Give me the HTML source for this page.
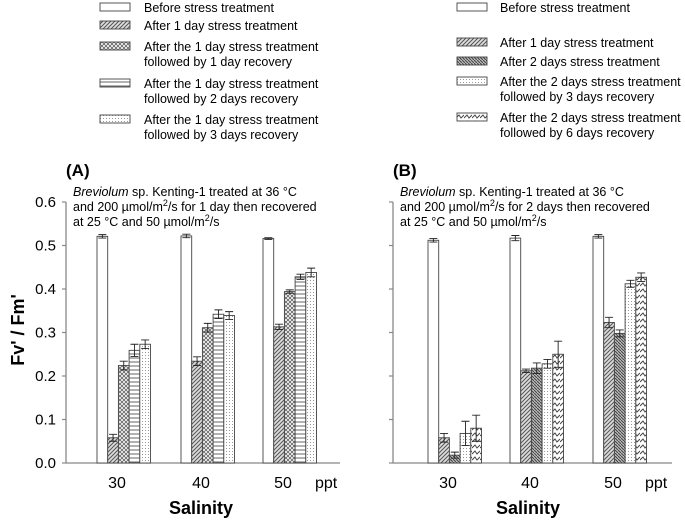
<!DOCTYPE html>
<html><head><meta charset="utf-8"><style>
html,body{margin:0;padding:0;background:#fff}
svg{display:block;font-family:"Liberation Sans",Arial,sans-serif}
</style></head><body>
<svg id="c" width="685" height="520" viewBox="0 0 685 520">
<defs>
<pattern id="pDiag" width="4" height="4" patternUnits="userSpaceOnUse"><rect width="4" height="4" fill="#ddd"/><path d="M0,4 L4,0 M-1,1 L1,-1 M3,5 L5,3" stroke="#555" stroke-width="1"/></pattern>
<pattern id="pCross" width="4" height="4" patternUnits="userSpaceOnUse"><rect width="4" height="4" fill="#fff"/><path d="M0,0 L4,4 M0,4 L4,0" stroke="#666" stroke-width="0.9"/></pattern>
<pattern id="pHoriz" width="4" height="4" patternUnits="userSpaceOnUse"><rect width="4" height="4" fill="#fff"/><path d="M0,2 L4,2" stroke="#555" stroke-width="0.9"/></pattern>
<pattern id="pDots" width="3" height="3" patternUnits="userSpaceOnUse"><rect width="3" height="3" fill="#fff"/><rect x="1" y="1" width="1" height="1" fill="#999"/></pattern>
<pattern id="pDiag2" width="3" height="3" patternUnits="userSpaceOnUse"><rect width="3" height="3" fill="#bbb"/><path d="M0,0 L3,3" stroke="#444" stroke-width="1"/></pattern>
<pattern id="pWave" width="8" height="6" patternUnits="userSpaceOnUse"><rect width="8" height="6" fill="#fff"/><path d="M0,4 L3,1 L5,4 L8,1" fill="none" stroke="#444" stroke-width="1"/></pattern>
</defs>
<g id="legend"></g>
<g id="panels"></g>
</svg>
<script>
const categories = ["30","40","50"];
const yTicks = [0,0.1,0.2,0.3,0.4,0.5,0.6];
const tickLabels = ["0.0","0.1","0.2","0.3","0.4","0.5","0.6"];
const aSeriesNames = ["Before stress treatment","After 1 day stress treatment","After the 1 day stress treatment followed by 1 day recovery","After the 1 day stress treatment followed by 2 days recovery","After the 1 day stress treatment followed by 3 days recovery"];
const aBefore = [0.521,0.522,0.516];
const aDay1 = [0.058,0.234,0.313];
const aRec1 = [0.224,0.311,0.394];
const aRec2 = [0.259,0.342,0.428];
const aRec3 = [0.273,0.339,0.438];
const aErr = [[0.004,0.004,0.002],[0.008,0.01,0.006],[0.01,0.01,0.004],[0.014,0.01,0.006],[0.01,0.009,0.01]];
const bSeriesNames = ["Before stress treatment","After 1 day stress treatment","After 2 days stress treatment","After the 2 days stress treatment followed by 3 days recovery","After the 2 days stress treatment followed by 6 days recovery"];
const bBefore = [0.512,0.517,0.521];
const bDay1 = [0.058,0.212,0.323];
const bDay2 = [0.018,0.218,0.298];
const bRec3 = [0.068,0.228,0.412];
const bRec6 = [0.080,0.250,0.427];
const bErr = [[0.004,0.006,0.004],[0.01,0.004,0.012],[0.007,0.012,0.008],[0.028,0.01,0.008],[0.03,0.03,0.01]];

const NS="http://www.w3.org/2000/svg";
function mk(tag,attrs,parent,txt){const e=document.createElementNS(NS,tag);for(const k in attrs)e.setAttribute(k,attrs[k]);if(txt!==undefined)e.textContent=txt;parent.appendChild(e);return e;}
const y0=463, yPer=435; // px per 1.0
function yScale(v){return y0-v*yPer;}
const panels=document.getElementById('panels');
const legend=document.getElementById('legend');

function drawPanel(id,axX,axEnd,groupX,series,errs,fills,label,title,nm){
  const g=mk('g',{},panels);
  
  
  const ax=mk('line',{x1:axX,y1:y0,x2:axX,y2:yScale(0.6),stroke:'#888','stroke-width':1.3},g);
  
  const xa=mk('line',{x1:axX,y1:y0,x2:axEnd,y2:y0,stroke:'#888','stroke-width':1.3},g);
  
  yTicks.forEach((t,i)=>{
    mk('line',{x1:axX-4,y1:yScale(t),x2:axX,y2:yScale(t),stroke:'#888','stroke-width':1.2},g);
    if(id==='A'){const tl=mk('text',{x:axX-10,y:yScale(t)+5,'text-anchor':'end','font-size':15,fill:'#000'},g,tickLabels[i]);
      }
  });
  const bw=10.7;
  categories.forEach((c,ci)=>{
    series.forEach((s,si)=>{
      const x=groupX[ci]+si*bw, v=s[ci], top=yScale(v);
      const r=mk('rect',{x:x,y:top,width:bw,height:y0-top,fill:fills[si],stroke:'#444','stroke-width':0.9},g);
      
      
      const e=errs[si][ci], cx=x+bw/2;
      mk('path',{d:`M${cx},${yScale(v+e)}V${yScale(v-e)}M${cx-4},${yScale(v+e)}H${cx+4}M${cx-4},${yScale(v-e)}H${cx+4}`,stroke:'#222','stroke-width':0.9,fill:'none'},g);
    });
    const xl=mk('text',{x:groupX[ci]+20,y:488,'text-anchor':'middle','font-size':16},g,c);
    
  });
  const ppt=mk('text',{x:groupX[2]+52,y:488,'font-size':16},g,'ppt');
  
  const pl=mk('text',{x:axX,y:176,'font-size':17,'font-weight':'bold'},g,label);
  
  const t=mk('text',{x:axX+7,y:196,'font-size':12.5},g);
  
  t.innerHTML=title;
  const xt=mk('text',{x:axX+135,y:514,'text-anchor':'middle','font-size':18,'font-weight':'bold'},g,'Salinity');
  
}
const fa=['#fff','url(#pDiag)','url(#pCross)','url(#pHoriz)','url(#pDots)'];
const fb=['#fff','url(#pDiag)','url(#pDiag2)','url(#pDots)','url(#pWave)'];
drawPanel('A',66,340,[97,181,263],[aBefore,aDay1,aRec1,aRec2,aRec3],aErr,fa,'(A)',
 '<tspan font-style="italic">Breviolum</tspan> sp. Kenting-1 treated at 36 °C<tspan x="73" dy="15">and 200 µmol/m</tspan><tspan font-size="9" dy="-5">2</tspan><tspan dy="5">/s for 1 day then recovered</tspan><tspan x="73" dy="15">at 25 °C and 50 µmol/m</tspan><tspan font-size="9" dy="-5">2</tspan><tspan dy="5">/s</tspan>','panel-a');
drawPanel('B',393,672,[428,510,593],[bBefore,bDay1,bDay2,bRec3,bRec6],bErr,fb,'(B)',
 '<tspan font-style="italic">Breviolum</tspan> sp. Kenting-1 treated at 36 °C<tspan x="400" dy="15">and 200 µmol/m</tspan><tspan font-size="9" dy="-5">2</tspan><tspan dy="5">/s for 2 days then recovered</tspan><tspan x="400" dy="15">at 25 °C and 50 µmol/m</tspan><tspan font-size="9" dy="-5">2</tspan><tspan dy="5">/s</tspan>','panel-b');
const yt=mk('text',{x:0,y:0,'text-anchor':'middle','font-size':18,'font-weight':'bold',transform:'translate(24,330) rotate(-90)'},panels,"Fv' / Fm'");


function drawLegend(bx,tx,rows,names,fills){
  rows.forEach((ry,i)=>{
    const g=mk('g',{},legend);
    
    
    mk('rect',{x:bx,y:ry-5,width:30,height:8,fill:fills[i],stroke:'#444','stroke-width':0.9},g);
    const n=names[i], idx=n.indexOf(' followed');
    if(idx<0){mk('text',{x:tx,y:ry+4,'font-size':12.5},g,n);}
    else{mk('text',{x:tx,y:ry+4,'font-size':12.5},g,n.slice(0,idx));mk('text',{x:tx,y:ry+19,'font-size':12.5},g,n.slice(idx+1));}
  });
}
drawLegend(100,144,[8,26,47,84,120],aSeriesNames,fa);
drawLegend(457,500,[8,43,62,82,118],bSeriesNames,fb);
</script>
</body></html>
